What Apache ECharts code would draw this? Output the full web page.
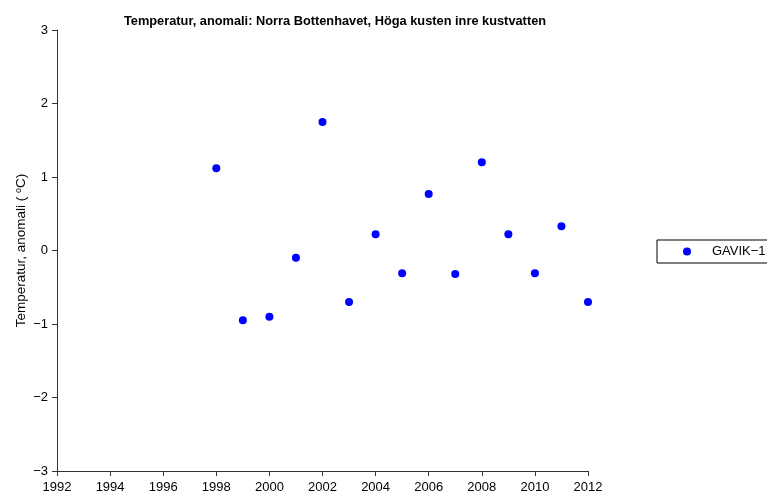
<!DOCTYPE html>
<html>
<head>
<meta charset="utf-8">
<script src="https://cdn.jsdelivr.net/npm/echarts@6/dist/echarts.min.js"></script>
<style>
  html, body { margin: 0; padding: 0; background: #fff; }
  #chart { width: 767px; height: 498px; }
</style>
</head>
<body>
<div id="chart"></div>
<script>
var years = [1998, 1999, 2000, 2001, 2002, 2003, 2004, 2005, 2006, 2007, 2008, 2009, 2010, 2011, 2012];
var anomaly = [1.12, -0.95, -0.90, -0.10, 1.75, -0.70, 0.22, -0.31, 0.77, -0.32, 1.20, 0.22, -0.31, 0.33, -0.70];
var seriesName = "GAVIK\u22121";

var chartDom = document.getElementById("chart");
var myChart = echarts.init(chartDom);

var axisFont = { fontFamily: "Liberation Sans, Arial, sans-serif", fontSize: 13, color: "#000" };

var option = {
  animation: false,
  title: {
    text: "Temperatur, anomali: Norra Bottenhavet, Höga kusten inre kustvatten",
    left: 330,
    textAlign: "center",
    top: 10,
    textStyle: { fontFamily: "Liberation Sans, Arial, sans-serif", fontSize: 12.8, fontWeight: "bold", color: "#000" }
  },
  grid: { left: 57, right: 179, top: 30, bottom: 27 },
  legend: {
    left: 657,
    top: 240,
    orient: "vertical",
    icon: "circle",
    itemWidth: 8,
    itemHeight: 8,
    itemGap: 0,
    padding: [5, 40, 5, 26],
    borderColor: "#000",
    borderWidth: 1,
    textStyle: { fontFamily: "Liberation Sans, Arial, sans-serif", fontSize: 13, color: "#000", padding: [0, 0, 0, 16] },
    data: [seriesName]
  },
  xAxis: {
    type: "value",
    min: 1992,
    max: 2012,
    interval: 2,
    splitLine: { show: false },
    axisLine: { onZero: false, lineStyle: { color: "#333" } },
    axisTick: { inside: false, length: 5, lineStyle: { color: "#333" } },
    axisLabel: Object.assign({
      margin: 10,
      formatter: function (v) { return String(v); }
    }, axisFont)
  },
  yAxis: {
    type: "value",
    min: -3,
    max: 3,
    interval: 1,
    name: "Temperatur, anomali ( {sup|o}C)",
    nameLocation: "middle",
    nameGap: 28,
    nameMoveOverlap: false,
    nameTextStyle: {
      fontFamily: "Liberation Sans, Arial, sans-serif",
      fontSize: 13.5,
      color: "#000",
      rich: { sup: { fontSize: 9, verticalAlign: "top", padding: [0, 0, 6, 0] } }
    },
    splitLine: { show: false },
    axisLine: { show: true, onZero: false, lineStyle: { color: "#333" } },
    axisTick: { show: true, inside: false, length: 5, lineStyle: { color: "#333" } },
    axisLabel: Object.assign({
      margin: 9,
      formatter: function (v) { return String(v).replace("-", "\u2212"); }
    }, axisFont)
  },
  series: [
    {
      name: seriesName,
      type: "scatter",
      symbol: "circle",
      symbolSize: 8,
      itemStyle: { color: "#0000ff", opacity: 1 },
      data: years.map(function (y, i) { return [y, anomaly[i]]; })
    }
  ]
};

myChart.setOption(option);
</script>
</body>
</html>
